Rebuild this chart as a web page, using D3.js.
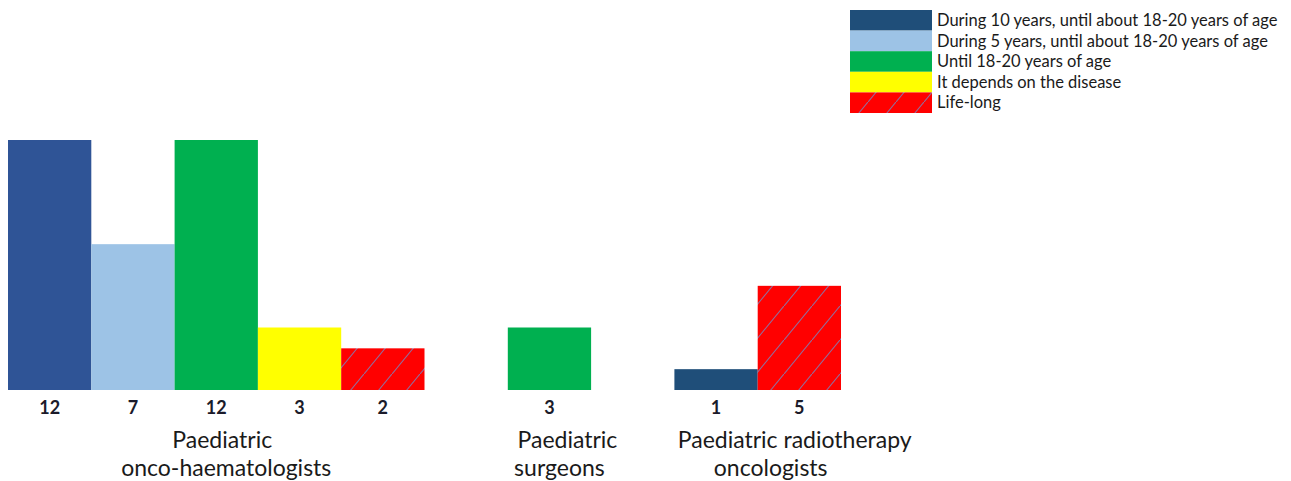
<!DOCTYPE html>
<html><head><meta charset="utf-8">
<script src="https://cdn.jsdelivr.net/npm/d3@7"></script>
<style>body{margin:0;background:#fff}svg{display:block}</style>
</head><body>
<svg id="c" width="1291" height="481"></svg>
<script>
// ---- data ----
const seriesNames = ["During 10 years, until about 18-20 years of age","During 5 years, until about 18-20 years of age","Until 18-20 years of age","It depends on the disease","Life-long"];
const groups = ["Paediatric\nonco-haematologists","Paediatric\nsurgeons","Paediatric radiotherapy\noncologists"];
// slots along the axis (empty slots keep the gaps)
const slots = ["g0s0","g0s1","g0s2","g0s3","g0s4","gap1","g1s2","gap2","g2s0","g2s4"];
const barGroup = [0,0,0,0,0,1,2,2];
const barSeries = [0,1,2,3,4,2,0,4];
const barSlot = ["g0s0","g0s1","g0s2","g0s3","g0s4","g1s2","g2s0","g2s4"];
const barValues = [12,7,12,3,2,3,1,5];

// ---- styles ----
const fills = ["#1f4e79","#9dc3e6","#00b050","#ffff00","#ff0000"];
const svg = d3.select("#c");
const defs = svg.append("defs");
const pat = defs.append("pattern").attr("id","hatch").attr("patternUnits","userSpaceOnUse")
  .attr("width",28).attr("height",34);
pat.append("rect").attr("width",28).attr("height",34).attr("fill","#ff0000");
pat.append("line").attr("x1",0).attr("y1",34).attr("x2",28).attr("y2",0)
  .attr("stroke","#8f6f9f").attr("stroke-width",1.1);

const x = d3.scaleBand().domain(slots).range([8,841]).padding(0);
const y = d3.scaleLinear().domain([0,12]).range([390,140]);

const bars = barValues.map((v,i)=>({v,g:barGroup[i],s:barSeries[i],slot:barSlot[i],i}));
const fillFor = d => d.s===4 ? "url(#hatch)" : (d.g===0 && d.s===0 ? "#2f5496" : fills[d.s]);

svg.append("g").selectAll("rect").data(bars).join("rect")
  .attr("x",d=>x(d.slot)).attr("width",x.bandwidth())
  .attr("y",d=>y(d.v)).attr("height",d=>y(0)-y(d.v))
  .attr("fill",fillFor);

const FF = "Lato, 'Open Sans', sans-serif";
svg.append("g").selectAll("text").data(bars).join("text")
  .attr("x",d=>x(d.slot)+x.bandwidth()/2).attr("y",414)
  .attr("text-anchor","middle").attr("font-family",FF)
  .attr("font-weight","bold").attr("font-size",18).attr("fill","#1b1b2a")
  .text(d=>d.v);

// group labels
const lineOffsets = [[6,10],[18,10],[37,13]];
groups.forEach((g,gi)=>{
  const bs = bars.filter(b=>b.g===gi);
  const x0 = d3.min(bs,b=>x(b.slot)), x1 = d3.max(bs,b=>x(b.slot)+x.bandwidth());
  const cx = (x0+x1)/2;
  g.split("\n").forEach((line,li)=>{
    svg.append("text").attr("x",cx+lineOffsets[gi][li]).attr("y",448+li*28)
      .attr("text-anchor","middle").attr("font-family",FF)
      .attr("font-size",23).attr("fill","#1a1a1a").text(line);
  });
});

// legend
const lg = svg.append("g");
seriesNames.forEach((n,i)=>{
  const top = 10 + i*20.6;
  lg.append("rect").attr("x",850).attr("y",top).attr("width",82).attr("height",20.6)
    .attr("fill", i===4 ? "url(#hatch)" : fills[i]);
  lg.append("text").attr("x",937).attr("y",top+16).attr("font-family",FF)
    .attr("font-size",16.5).attr("fill","#1a1a1a").text(n);
});
</script>
</body></html>
